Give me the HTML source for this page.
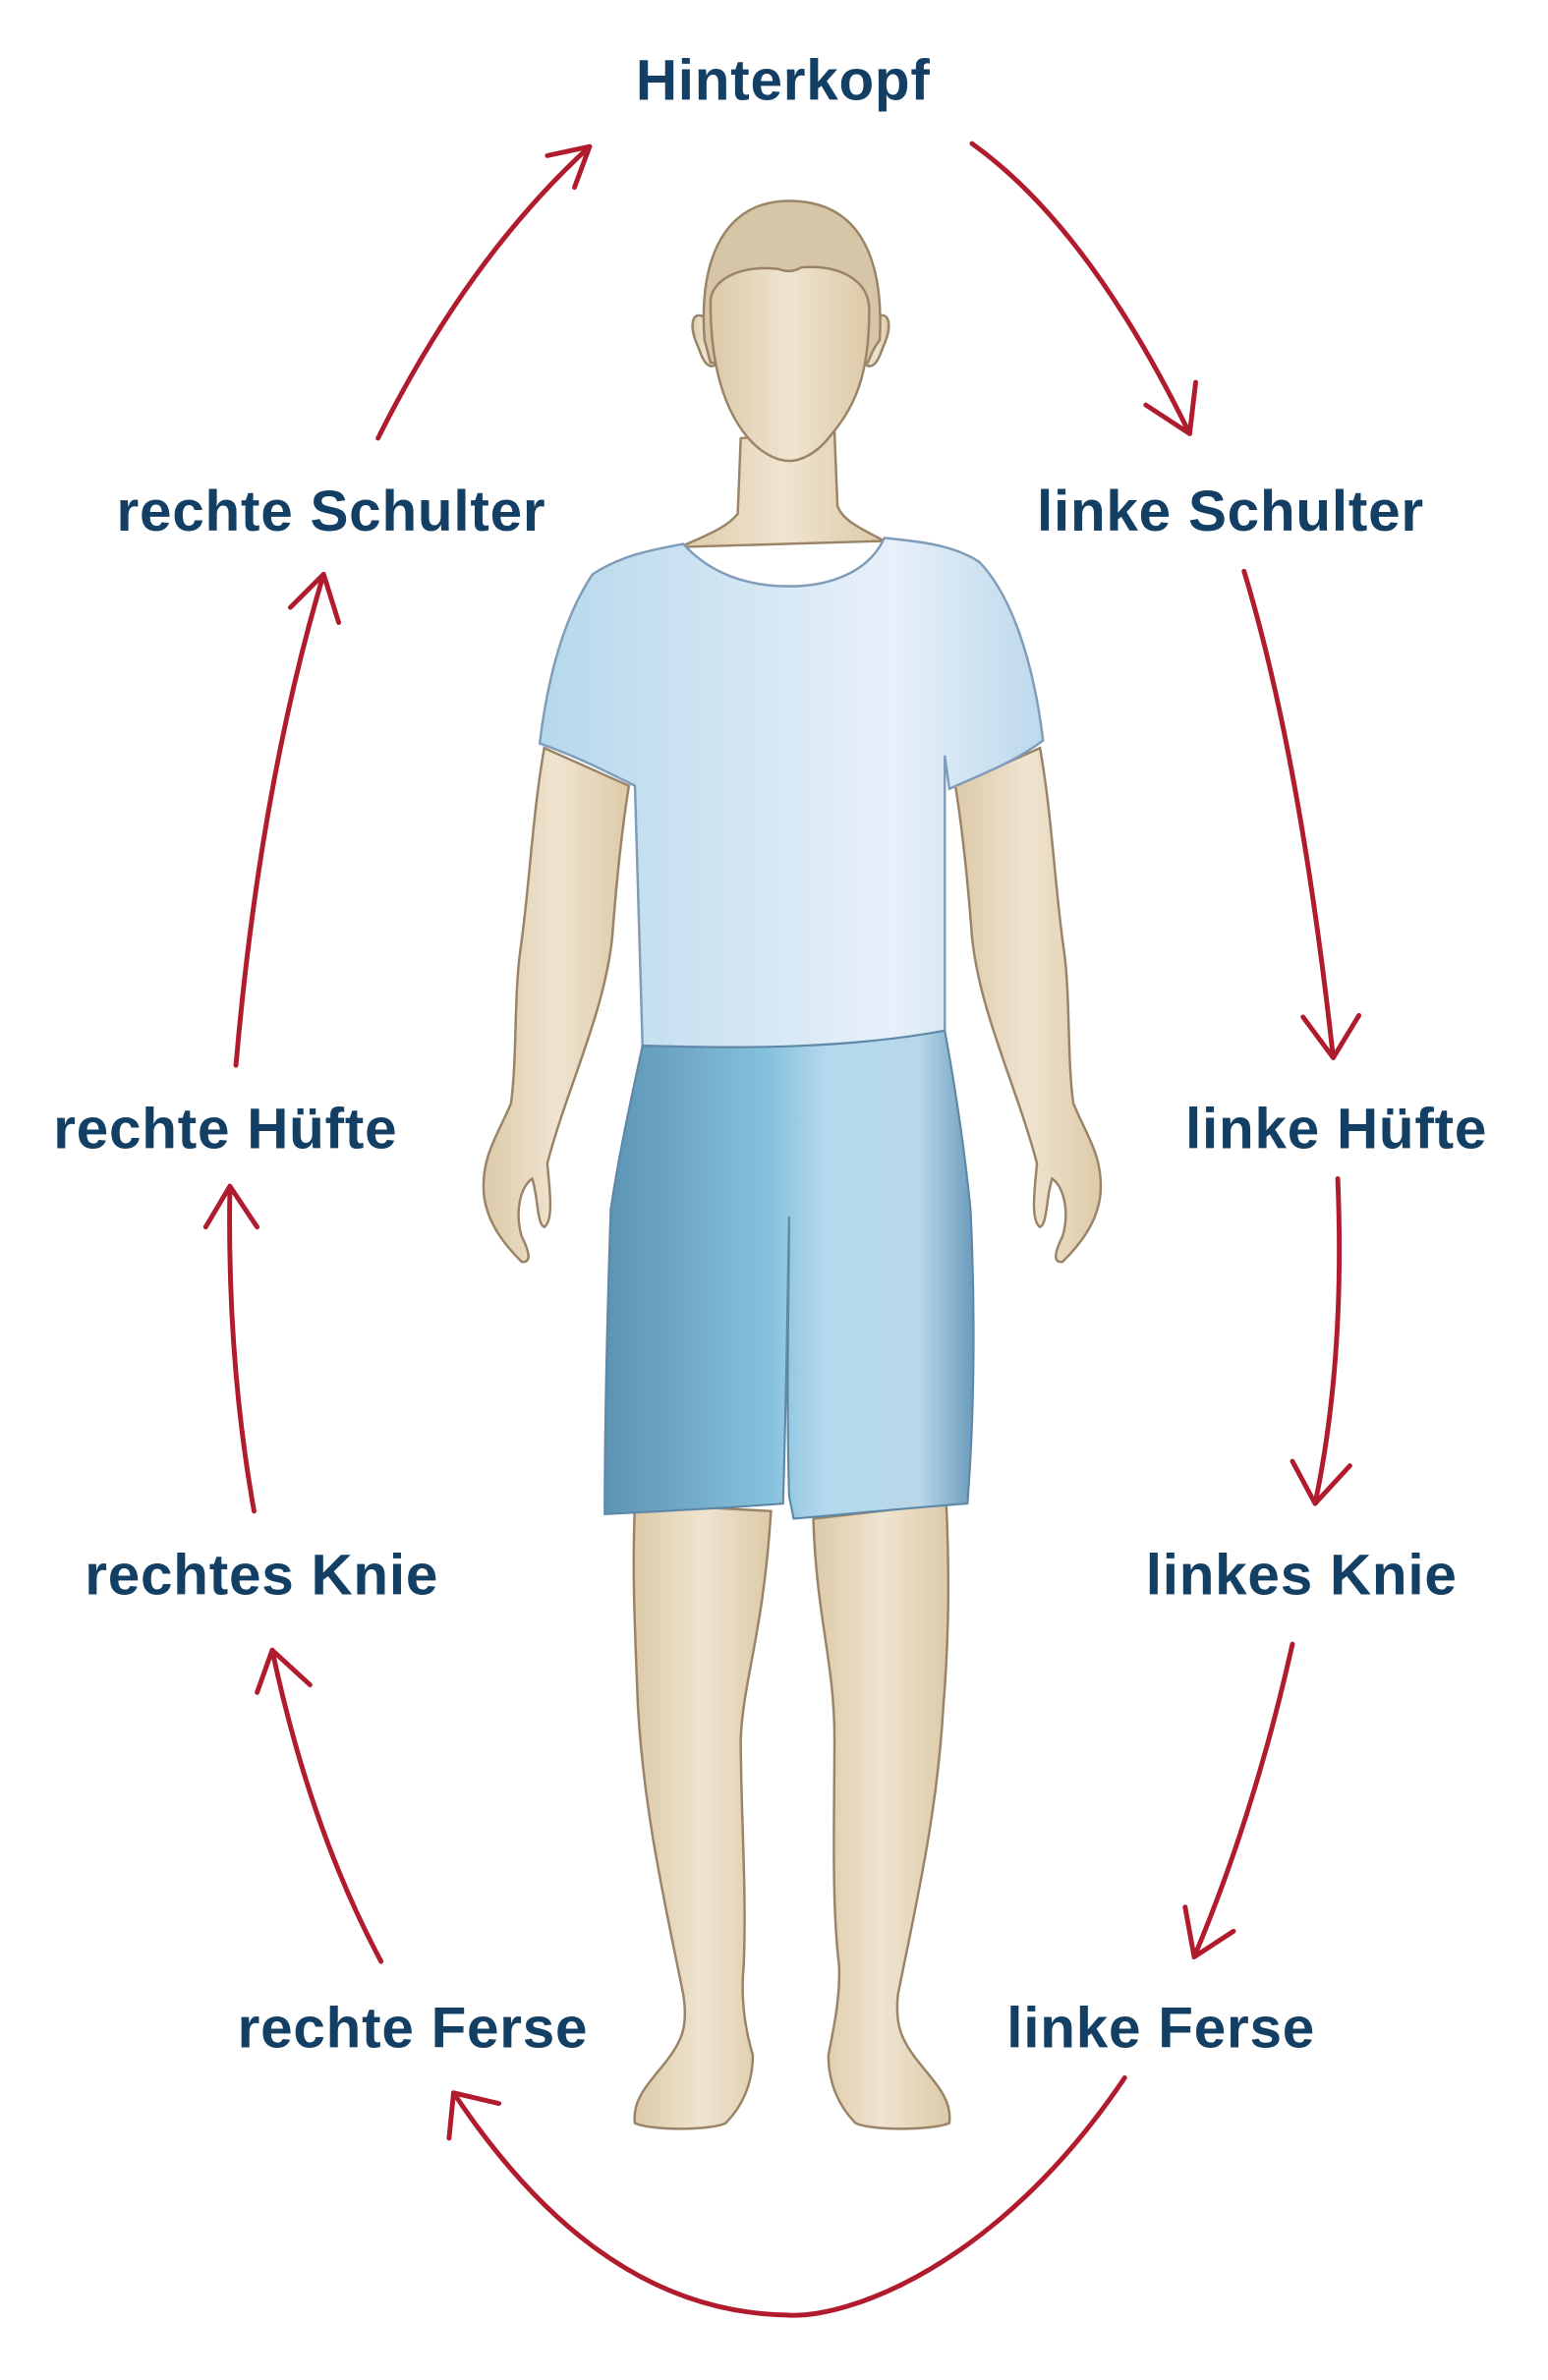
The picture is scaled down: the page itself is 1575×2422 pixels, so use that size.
<!DOCTYPE html>
<html><head><meta charset="utf-8"><style>
html,body{margin:0;padding:0;background:#fff;}
svg{display:block;}
text{font-family:"Liberation Sans",sans-serif;font-weight:bold;fill:#123f63;font-size:38px;letter-spacing:0.5px;}
</style></head><body>
<svg width="1575" height="2422" viewBox="0 0 1024 1575" xmlns="http://www.w3.org/2000/svg">
<defs>
<linearGradient id="skin" x1="0" x2="1"><stop offset="0" stop-color="#dccaa8"/><stop offset="0.5" stop-color="#f0e4d0"/><stop offset="1" stop-color="#dccaa8"/></linearGradient>
<linearGradient id="shirt" x1="0" x2="1"><stop offset="0" stop-color="#b6d8ec"/><stop offset="0.7" stop-color="#e8f0fa"/><stop offset="1" stop-color="#bcd9ec"/></linearGradient>
<linearGradient id="shorts" x1="0" x2="1"><stop offset="0" stop-color="#5c93b4"/><stop offset="0.45" stop-color="#86c2de"/><stop offset="0.6" stop-color="#b4d8ec"/><stop offset="0.85" stop-color="#b8d8ea"/><stop offset="1" stop-color="#6c9cbc"/></linearGradient>
</defs>
<g fill="none" stroke="#b01c2e" stroke-width="3.2" stroke-linecap="round" stroke-linejoin="round">
<path d="M250,290 Q310,170 390,97"/><path d="M362,103 L390,97 L380,124"/>
<path d="M643,95 Q720,150 787,287"/><path d="M758,268 L787,287 L791,253"/>
<path d="M823,378 Q860,500 882,700"/><path d="M862,673 L882,700 L899,672"/>
<path d="M885,780 Q890,900 870,995"/><path d="M855,967 L870,995 L893,970"/>
<path d="M855,1088 Q830,1200 790,1295"/><path d="M784,1262 L790,1295 L816,1278"/>
<path d="M744,1375 C660,1500 560,1535 520,1532 C420,1530 350,1460 300,1385"/><path d="M297,1415 L300,1385 L330,1392"/>
<path d="M252,1298 Q205,1210 180,1092"/><path d="M170,1120 L180,1092 L205,1115"/>
<path d="M168,1000 Q150,900 152,785"/><path d="M136,812 L152,785 L170,812"/>
<path d="M156,705 Q172,520 214,380"/><path d="M192,402 L214,380 L224,412"/>
</g>
<g stroke="#9a8468" stroke-width="1.6" fill="url(#skin)">
<path d="M360,495 C352,540 350,590 344,630 C340,660 342,700 338,730 C330,750 318,765 320,790 C322,810 335,825 345,835 C352,836 350,828 345,818 C340,800 345,785 352,780 C356,792 355,810 360,812 C366,808 364,790 362,770 C375,720 400,670 405,620 C408,580 412,545 416,520 Z"/>
<path d="M688,495 C696,540 698,590 704,630 C708,660 706,700 710,730 C718,750 730,765 728,790 C726,810 713,825 703,835 C696,836 698,828 703,818 C708,800 703,785 696,780 C692,792 693,810 688,812 C682,808 684,790 686,770 C673,720 648,670 643,620 C640,580 636,545 632,520 Z"/>
<path d="M420,995 C418,1040 420,1080 422,1130 C426,1200 440,1260 452,1320 C455,1340 452,1350 440,1365 C428,1380 418,1390 420,1405 C430,1410 470,1410 480,1405 C490,1395 498,1380 498,1360 C492,1340 490,1320 492,1300 C494,1250 490,1200 490,1150 C492,1110 505,1080 510,1000 Z"/>
<path d="M538,1005 C540,1070 552,1100 552,1150 C552,1200 550,1260 555,1300 C556,1320 552,1340 548,1360 C548,1380 556,1395 566,1405 C576,1410 616,1410 628,1405 C630,1390 620,1380 608,1365 C596,1350 592,1340 594,1320 C606,1260 620,1200 624,1130 C628,1080 628,1040 626,995 Z"/>
<path d="M490,290 L488,340 C480,350 465,355 450,362 L585,358 C570,350 558,345 554,335 L552,285 Z"/>
<path d="M466,210 C458,205 455,215 462,230 C466,242 470,245 475,240 Z"/>
<path d="M580,210 C588,205 591,215 584,230 C580,242 576,245 571,240 Z"/>
<path d="M466,225 C462,170 480,133 522,133 C565,133 585,165 582,225 C578,230 576,235 574,240 L470,240 Z" fill="#d6c5a6"/>
<path d="M470,200 C470,185 490,175 515,178 C520,180 525,180 530,177 C555,175 575,185 575,205 C575,250 565,270 548,290 C540,300 530,305 522,305 C512,305 502,298 495,290 C478,270 470,240 470,200 Z"/>
</g>
<path d="M452,360 C470,380 495,388 522,388 C550,388 575,378 585,356 C605,358 630,360 648,372 C670,395 684,440 690,490 C670,505 650,512 628,522 L625,500 L625,690 C560,694 490,694 425,692 L420,520 C400,510 380,500 357,492 C362,450 372,410 392,380 C410,368 430,364 452,360 Z" fill="url(#shirt)" stroke="#7f9cb8" stroke-width="1.6"/>
<path d="M425,692 C490,694 560,694 625,682 C632,720 638,760 642,800 C645,860 645,930 640,995 C600,998 560,1002 525,1005 L522,990 C520,920 522,850 522,805 C521,860 520,930 518,995 C480,998 440,1000 400,1002 C400,930 402,860 404,800 C410,760 418,725 425,692 Z" fill="url(#shorts)" stroke="#5f88a8" stroke-width="1.4"/>
<text x="518" y="66" text-anchor="middle">Hinterkopf</text>
<text x="219" y="351" text-anchor="middle">rechte Schulter</text>
<text x="814" y="351" text-anchor="middle">linke Schulter</text>
<text x="149" y="760" text-anchor="middle">rechte Hüfte</text>
<text x="884" y="760" text-anchor="middle">linke Hüfte</text>
<text x="173" y="1055" text-anchor="middle">rechtes Knie</text>
<text x="861" y="1055" text-anchor="middle">linkes Knie</text>
<text x="273" y="1355" text-anchor="middle">rechte Ferse</text>
<text x="768" y="1355" text-anchor="middle">linke Ferse</text>
</svg>
</body></html>
